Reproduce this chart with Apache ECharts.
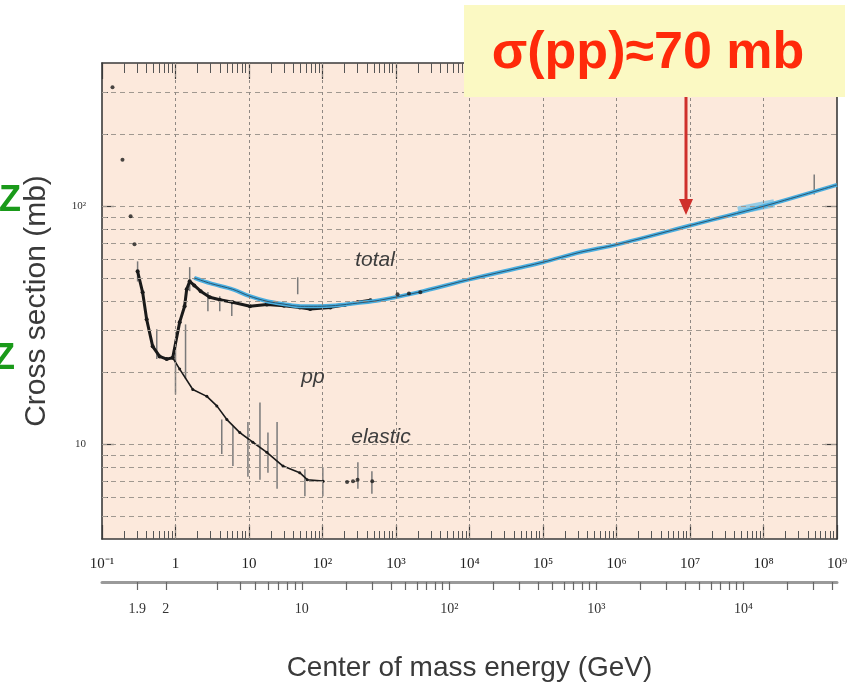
<!DOCTYPE html>
<html>
<head>
<meta charset="utf-8">
<script src="https://cdn.jsdelivr.net/npm/echarts@6/dist/echarts.min.js"></script>
<style>html,body{margin:0;padding:0;background:#fff}#main{width:867px;height:688px}</style>
</head>
<body>
<div id="main"></div>
<script>
// beam momentum (GeV/c) on x, cross section (mb) on y
var totalFitP = [1.8, 3, 6, 10, 17.5, 30, 50, 85, 150, 300, 600, 2000, 1e4, 1e5, 3.2e5, 1e6, 1e7, 1e8, 1e9];
var totalFitSigma = [50, 47.4, 44.8, 42, 39.9, 38.8, 38.0, 38.0, 38.3, 39.2, 40.3, 43.5, 49.3, 58.2, 64.1, 69, 83, 100, 123];

var totalP = [0.305, 0.357, 0.405, 0.489, 0.608, 0.759, 0.916, 1.14, 1.33, 1.42, 1.56, 1.8, 2.2, 2.93, 4, 6, 10.3, 17.5, 30, 49, 68, 128, 200, 300, 450];
var totalSigma = [53.3, 43.5, 33.5, 25.8, 23.4, 22.8, 23.1, 32.6, 38, 44.8, 48.4, 46.5, 44, 41.5, 40.5, 39.5, 38, 38.7, 38.2, 37.6, 37.0, 37.6, 38.5, 39.5, 40.3];

var elasticP = [0.916, 1.14, 1.72, 2.67, 3.65, 5, 7.5, 11.3, 17.5, 29, 49, 62, 102];
var elasticSigma = [23.1, 20.7, 17, 15.9, 14.5, 12.7, 11.2, 10.2, 9.25, 8.1, 7.6, 7.1, 7.0];

var dotP = [0.139, 0.19, 0.245, 0.277, 1050, 1500, 2140, 216, 260, 300, 475];
var dotSigma = [316, 157, 90.8, 69.2, 42.7, 43, 43.5, 6.95, 7.0, 7.1, 7.0];

// [p, low, high]
var errorBars = [
  [0.305, 48.3, 58.7], [0.556, 22.8, 30.4], [1.0, 16.2, 27.6], [1.37, 18.8, 31.9],
  [1.56, 44, 55.5], [2.76, 36.2, 43.6], [4.0, 36.2, 41.9], [5.83, 34.6, 39.9],
  [46, 42.7, 50.3], [4.9e8, 112, 136],
  [4.26, 9.1, 12.7], [6.04, 8.1, 11.9], [9.67, 7.3, 12.4], [14.1, 7.1, 15.0],
  [18.1, 7.6, 11.2], [24.1, 6.5, 12.4], [57.6, 6.05, 7.85], [101, 6.05, 8.0],
  [303, 6.5, 8.4], [470, 6.2, 7.7]
];

var blobP = [4.5e7, 1.4e8];
var blobSigma = [96, 103];

var xDecades = [0.1, 1, 10, 100, 1e3, 1e4, 1e5, 1e6, 1e7, 1e8, 1e9];
var xDecadeLabels = ['10⁻¹', '1', '10', '10²', '10³', '10⁴', '10⁵', '10⁶', '10⁷', '10⁸', '10⁹'];
var yMajor = [10, 100];
var yMajorLabels = ['10', '10²'];
var yGridValues = [5, 6, 7, 8, 9, 10, 20, 30, 40, 50, 60, 70, 80, 90, 100, 200, 300];
var yMinor = [5, 6, 7, 8, 9, 20, 30, 40, 50, 60, 70, 80, 90, 200, 300];

var sqrtsTicks = [1.9, 2, 3, 4, 5, 6, 7, 8, 9, 10, 20, 30, 40, 50, 60, 70, 80, 90,
  100, 200, 300, 400, 500, 600, 700, 800, 900, 1000, 2000, 3000, 4000, 5000, 6000, 7000, 8000, 9000,
  10000, 20000, 30000, 40000];
var sqrtsLabelValues = [1.9, 2, 10, 100, 1000, 10000];
var sqrtsLabelText = ['1.9', '2', '10', '10²', '10³', '10⁴'];

var MP = 0.938272;
function plabFromSqrts(w) {
  var e = (w * w - 2 * MP * MP) / (2 * MP);
  return Math.sqrt(e * e - MP * MP);
}
var xMinor = [];
for (var d = 0; d < xDecades.length - 1; d++) {
  for (var k = 2; k <= 9; k++) xMinor.push(k * xDecades[d]);
}
var sqrtsTickP = sqrtsTicks.map(plabFromSqrts);
var sqrtsLabelP = sqrtsLabelValues.map(plabFromSqrts);

function zip(a, b) { return a.map(function (v, i) { return [v, b[i]]; }); }
function nearestLabel(vals, texts, v) {
  var best = 0;
  for (var i = 1; i < vals.length; i++) {
    if (Math.abs(Math.log(vals[i] / v)) < Math.abs(Math.log(vals[best] / v))) best = i;
  }
  return texts[best];
}

var frame = {color: '#3a3a3a', width: 1.6};
var serif = 'Liberation Serif';

var chart = echarts.init(document.getElementById('main'));
var option = {
  animation: false,
  backgroundColor: '#ffffff',
  grid: [
    {left: 102, top: 63, width: 735, height: 476, show: true, backgroundColor: '#fce9dc', borderWidth: 0, outerBoundsMode: 'none'},
    {left: 102, top: 581, width: 735, height: 1, outerBoundsMode: 'none'}
  ],
  xAxis: [
    {gridIndex: 0, type: 'log', min: 0.1, max: 1e9, position: 'bottom',
      axisLine: {show: true, lineStyle: frame},
      axisTick: {show: true, inside: true, length: 14, customValues: xDecades, lineStyle: {color: '#3a3a3a', width: 1.2}},
      axisLabel: {customValues: xDecades, margin: 18, fontFamily: serif, fontSize: 15, color: '#222',
        formatter: function (v) { return nearestLabel(xDecades, xDecadeLabels, v); }},
      splitLine: {show: false}},
    {gridIndex: 0, type: 'log', min: 0.1, max: 1e9, position: 'bottom',
      axisLine: {show: false},
      axisTick: {show: true, inside: true, length: 8, customValues: xMinor, lineStyle: {color: '#555', width: 1}},
      axisLabel: {show: false}, splitLine: {show: false}},
    {gridIndex: 0, type: 'log', min: 0.1, max: 1e9, position: 'top',
      axisLine: {show: true, lineStyle: frame},
      axisTick: {show: true, inside: true, length: 16, customValues: xDecades, lineStyle: {color: '#3a3a3a', width: 1.2}},
      axisLabel: {show: false}, splitLine: {show: false}},
    {gridIndex: 0, type: 'log', min: 0.1, max: 1e9, position: 'top',
      axisLine: {show: false},
      axisTick: {show: true, inside: true, length: 10, customValues: xMinor, lineStyle: {color: '#555', width: 1}},
      axisLabel: {show: false}, splitLine: {show: false}},
    {gridIndex: 1, type: 'log', min: 0.1, max: 1e9, position: 'bottom',
      axisLine: {show: true, lineStyle: {color: '#9a9a9a', width: 3}},
      axisTick: {show: true, inside: false, length: 8, customValues: sqrtsTickP, lineStyle: {color: '#666', width: 1.2}},
      axisLabel: {customValues: sqrtsLabelP, margin: 20, fontFamily: serif, fontSize: 14, color: '#333',
        formatter: function (v) { return nearestLabel(sqrtsLabelP, sqrtsLabelText, v); }},
      splitLine: {show: false},
      name: 'Center of mass energy (GeV)', nameLocation: 'middle', nameGap: 72,
      nameTextStyle: {fontFamily: 'Liberation Sans', fontSize: 28, color: '#3a3a3a'}}
  ],
  yAxis: [
    {gridIndex: 0, type: 'log', min: 4, max: 400, position: 'left',
      axisLine: {show: true, lineStyle: frame},
      axisTick: {show: true, inside: true, length: 12, customValues: yMajor, lineStyle: {color: '#3a3a3a', width: 1.2}},
      axisLabel: {customValues: yMajor, margin: 16, fontFamily: serif, fontSize: 11, color: '#333',
        formatter: function (v) { return nearestLabel(yMajor, yMajorLabels, v); }},
      splitLine: {show: false},
      name: 'Cross section (mb)', nameLocation: 'middle', nameGap: 50,
      nameTextStyle: {fontFamily: 'Liberation Sans', fontSize: 30, color: '#3a3a3a'}},
    {gridIndex: 0, type: 'log', min: 4, max: 400, position: 'left',
      axisLine: {show: false},
      axisTick: {show: true, inside: true, length: 6, customValues: yMinor, lineStyle: {color: '#555', width: 1}},
      axisLabel: {show: false}, splitLine: {show: false}},
    {gridIndex: 0, type: 'log', min: 4, max: 400, position: 'right',
      axisLine: {show: true, lineStyle: frame},
      axisTick: {show: true, inside: true, length: 12, customValues: yMajor, lineStyle: {color: '#3a3a3a', width: 1.2}},
      axisLabel: {show: false}, splitLine: {show: false}},
    {gridIndex: 0, type: 'log', min: 4, max: 400, position: 'right',
      axisLine: {show: false},
      axisTick: {show: true, inside: true, length: 6, customValues: yMinor, lineStyle: {color: '#555', width: 1}},
      axisLabel: {show: false}, splitLine: {show: false}},
    {gridIndex: 1, type: 'value', show: false}
  ],
  series: [
    {
      type: 'line', xAxisIndex: 0, yAxisIndex: 0, z: 1, silent: true,
      data: [[1, 10]], showSymbol: false, lineStyle: {opacity: 0},
      markLine: {
        silent: true, symbol: ['none', 'none'], label: {show: false}, animation: false,
        lineStyle: {type: [5, 4], color: '#a09890', width: 1},
        data: yGridValues.map(function (v) { return {yAxis: v}; }).concat(
          xDecades.slice(1, -1).map(function (v) { return {xAxis: v, lineStyle: {type: [3, 3], color: '#8f8883', width: 1}}; }))
      }
    },
    {
      type: 'custom', xAxisIndex: 0, yAxisIndex: 0, z: 2, silent: true,
      data: errorBars, encode: {x: 0, y: [1, 2]},
      renderItem: function (params, api) {
        var a = api.coord([api.value(0), api.value(1)]);
        var b = api.coord([api.value(0), api.value(2)]);
        return {type: 'line', shape: {x1: a[0], y1: a[1], x2: b[0], y2: b[1]},
          style: {stroke: '#7a7a7a', lineWidth: 1.5}};
      }
    },
    {
      type: 'line', z: 3, data: zip(totalP, totalSigma),
      symbol: 'circle', symbolSize: 4, itemStyle: {color: '#1a1a1a'},
      lineStyle: {color: '#1a1a1a', width: 3}
    },
    {
      type: 'line', z: 3, data: zip(elasticP, elasticSigma),
      symbol: 'circle', symbolSize: 3, itemStyle: {color: '#1a1a1a'},
      lineStyle: {color: '#1a1a1a', width: 1.6}
    },
    {
      type: 'line', z: 4, data: zip(blobP, blobSigma), showSymbol: false,
      lineStyle: {color: '#7cc3e6', width: 8, opacity: 0.8}
    },
    {
      type: 'line', z: 4, data: zip(totalFitP, totalFitSigma), showSymbol: false, smooth: 0.3,
      lineStyle: {color: '#4aaee0', width: 4}
    },
    {
      type: 'line', z: 5, data: zip(totalFitP, totalFitSigma), showSymbol: false, smooth: 0.3,
      lineStyle: {color: '#2a5670', width: 1}
    },
    {
      type: 'scatter', z: 6, data: zip(dotP, dotSigma),
      symbol: 'circle', symbolSize: 4, itemStyle: {color: '#1a1a1a'}
    }
  ],
  graphic: [
    {type: 'text', x: 375, y: 260, z: 50, style: {text: 'total', fontSize: 21, fontStyle: 'italic', fontFamily: 'Liberation Sans', fill: '#3d3d3d', align: 'center', verticalAlign: 'middle'}},
    {type: 'text', x: 313, y: 377, z: 50, style: {text: 'pp', fontSize: 21, fontStyle: 'italic', fontFamily: 'Liberation Sans', fill: '#3d3d3d', align: 'center', verticalAlign: 'middle'}},
    {type: 'text', x: 381, y: 437, z: 50, style: {text: 'elastic', fontSize: 21, fontStyle: 'italic', fontFamily: 'Liberation Sans', fill: '#3d3d3d', align: 'center', verticalAlign: 'middle'}},
    {type: 'rect', z: 100, shape: {x: 464, y: 5, width: 381, height: 92}, style: {fill: '#fbf9c3'}},
    {type: 'text', x: 648, y: 54, z: 101, style: {text: 'σ(pp)≈70 mb', fontSize: 52, fontWeight: 'bold', fontFamily: 'Liberation Sans', fill: '#ff2a0a', align: 'center', verticalAlign: 'middle'}},
    {type: 'line', z: 100, shape: {x1: 686, y1: 97, x2: 686, y2: 202}, style: {stroke: '#cf302c', lineWidth: 3}},
    {type: 'polygon', z: 100, shape: {points: [[679, 199], [693, 199], [686, 215]]}, style: {fill: '#cf302c'}},
    {type: 'text', x: 10, y: 201, z: 50, style: {text: 'Z', fontSize: 36, fontWeight: 'bold', fontFamily: 'Liberation Sans', fill: '#1a9a1a', align: 'center', verticalAlign: 'middle'}},
    {type: 'text', x: 4, y: 359, z: 50, style: {text: 'Z', fontSize: 36, fontWeight: 'bold', fontFamily: 'Liberation Sans', fill: '#1a9a1a', align: 'center', verticalAlign: 'middle'}}
  ]
};
chart.setOption(option);
</script>
</body>
</html>
